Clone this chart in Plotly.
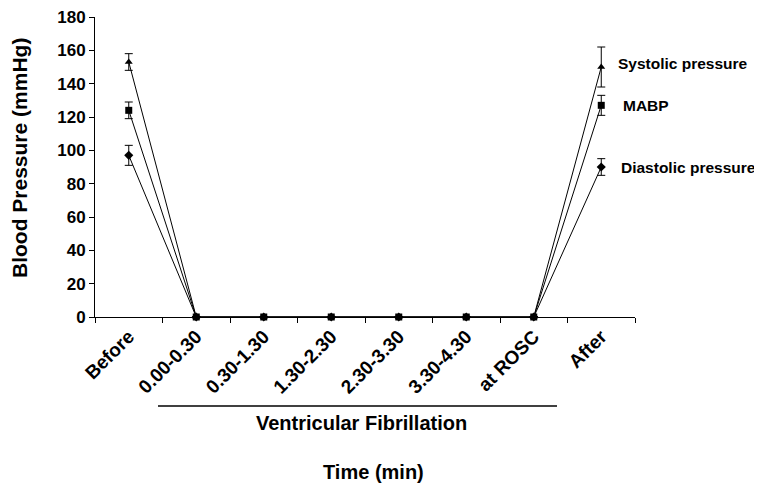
import plotly.graph_objects as go

categories = ["Before", "0.00-0.30", "0.30-1.30", "1.30-2.30", "2.30-3.30", "3.30-4.30", "at ROSC", "After"]
systolic = [153, 0, 0, 0, 0, 0, 0, 150]
systolic_err = [5, 0, 0, 0, 0, 0, 0, 12]
mabp = [124, 0, 0, 0, 0, 0, 0, 127]
mabp_err = [5, 0, 0, 0, 0, 0, 0, 6]
diastolic = [97, 0, 0, 0, 0, 0, 0, 90]
diastolic_err = [6, 0, 0, 0, 0, 0, 0, 5]
series_labels = ["Systolic pressure", "MABP", "Diastolic pressure"]
label_y = [152, 127, 90]

FONT = "Liberation Sans, Arial, sans-serif"
OFF = 8  # default page body margin
W, H = 762 - OFF, 490 - OFF
PL, PR, PT, PB = 95, 635, 17, 317  # plot area in page pixels
L = PL - OFF
T = PT - OFF
R = W - (PR - OFF)
B = H - (PB - OFF)
PW = PR - PL
PH = PB - PT

def px(x):
    return (x - PL) / PW

def py(y):
    return (PB - y) / PH

fig = go.Figure()
for vals, err, sym in [(diastolic, diastolic_err, "diamond"),
                       (systolic, systolic_err, "triangle-up"),
                       (mabp, mabp_err, "square")]:
    fig.add_trace(go.Scatter(
        x=categories, y=vals, mode="lines+markers",
        line=dict(color="black", width=1),
        marker=dict(symbol=sym, size=7, color="black"),
        error_y=dict(type="data", array=err, visible=True, color="black", thickness=1, width=4),
        showlegend=False, cliponaxis=False))

label_x = {"Systolic pressure": 616, "MABP": 621, "Diastolic pressure": 619}
for lab, ly in zip(series_labels, label_y):
    fig.add_annotation(x=px(label_x[lab]), xref="paper", y=ly, yref="y",
                       text="<b>%s</b>" % lab, showarrow=False, xanchor="left", yanchor="middle",
                       font=dict(family=FONT, size=15.5, color="black"))

fig.add_shape(type="line", xref="paper", yref="paper", x0=px(158), x1=px(557), y0=py(406), y1=py(406),
              line=dict(color="black", width=1.5))
fig.add_annotation(x=px(361), y=py(423), xref="paper", yref="paper", text="<b>Ventricular Fibrillation</b>",
                   xanchor="center", yanchor="middle",
                   showarrow=False, font=dict(family=FONT, size=20, color="black"))
fig.add_annotation(x=px(373), y=py(472), xref="paper", yref="paper", text="<b>Time (min)</b>",
                   xanchor="center", yanchor="middle",
                   showarrow=False, font=dict(family=FONT, size=20, color="black"))
fig.add_annotation(x=px(19), y=py(158), xref="paper", yref="paper", text="<b>Blood Pressure (mmHg)</b>",
                   xanchor="center", yanchor="middle",
                   textangle=-90, showarrow=False, font=dict(family=FONT, size=21, color="black"))

fig.update_layout(
    width=W, height=H,
    margin=dict(l=L, r=R, t=T, b=B),
    paper_bgcolor="white", plot_bgcolor="white",
    font=dict(family=FONT, color="black"),
    xaxis=dict(type="category", range=[-0.5, 7.5], showline=True, linecolor="black", linewidth=1,
               ticks="outside", tickson="boundaries", ticklen=5, tickcolor="black",
               tickangle=-45, showgrid=False, zeroline=False, automargin=False,
               ticklabeloverflow="allow",
               tickfont=dict(family=FONT, size=19, color="black"),
               tickprefix="<b>", ticksuffix="</b>"),
    yaxis=dict(range=[0, 180], dtick=20, showline=True, linecolor="black", linewidth=1,
               ticks="outside", ticklen=5, tickcolor="black", showgrid=False, zeroline=False,
               automargin=False, ticklabeloverflow="allow",
               tickfont=dict(family=FONT, size=17, color="black"),
               tickprefix="<b>", ticksuffix="</b>"),
)

fig.write_html("out.html")
